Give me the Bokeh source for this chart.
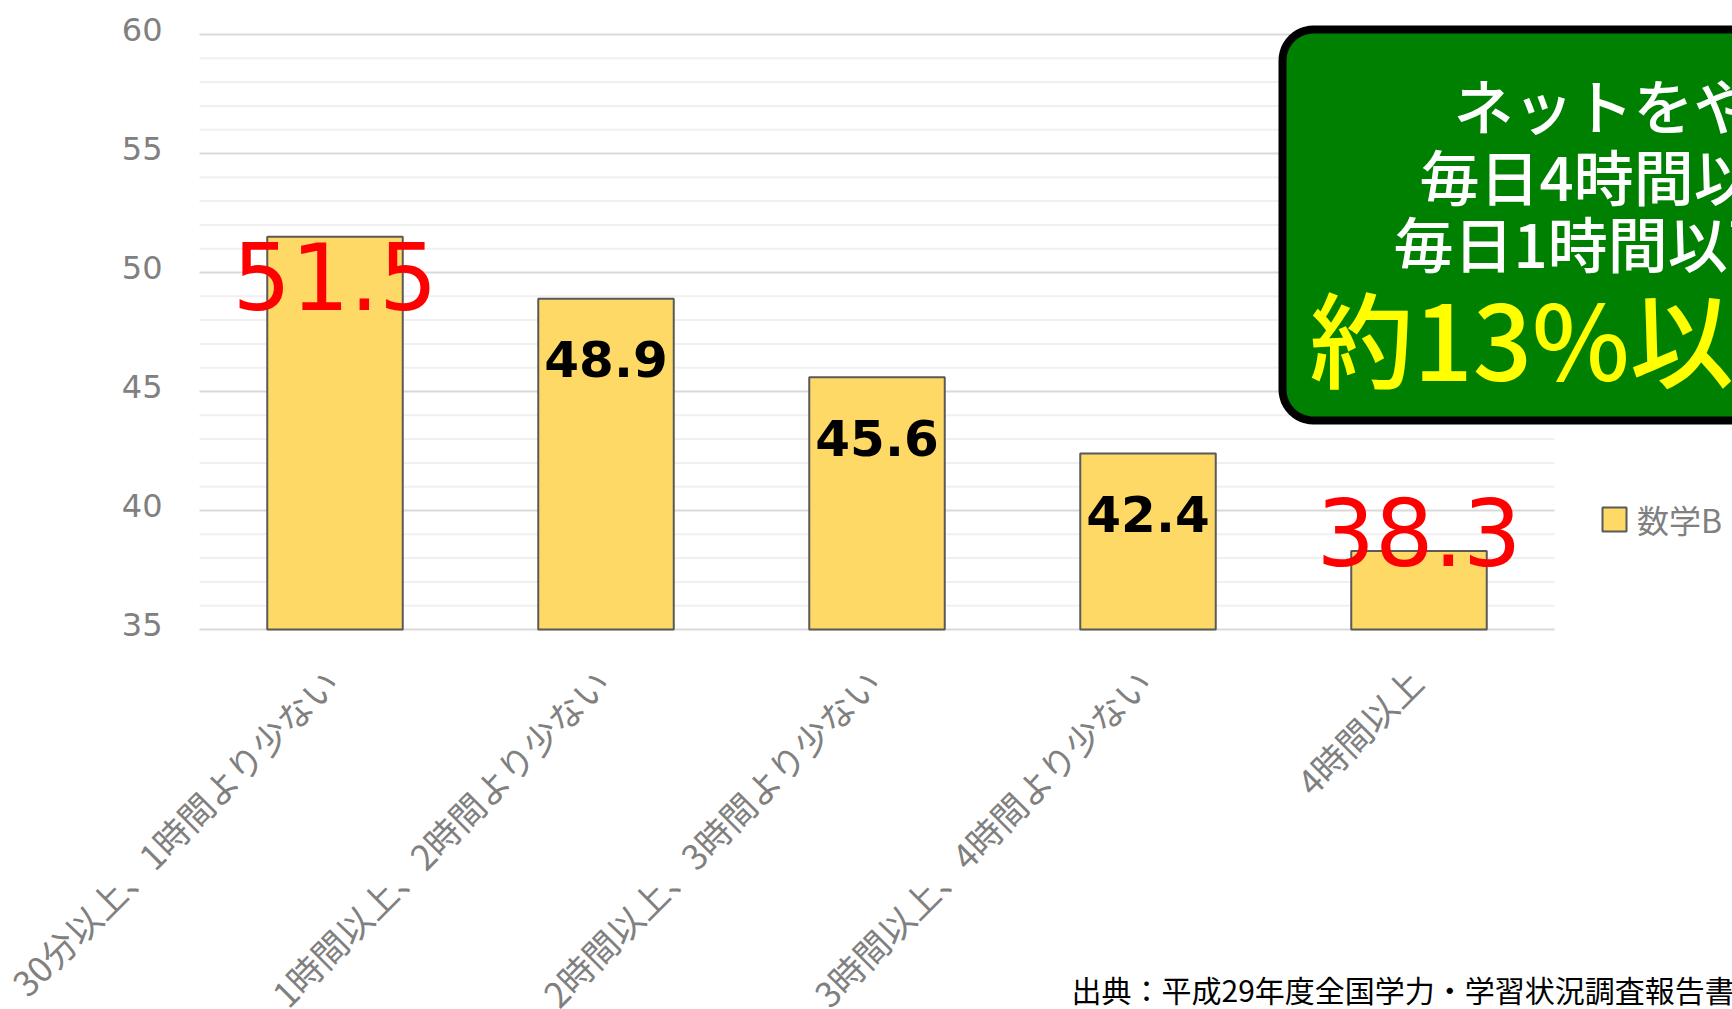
import math
from bokeh.plotting import figure
from bokeh.models import Range1d, Legend, LegendItem, ColumnDataSource
from bokeh.core.properties import value
from bokeh.embed import file_html
from bokeh.resources import INLINE

# ---------------- data ----------------
categories = [
    "30分以上、1時間より少ない",
    "1時間以上、2時間より少ない",
    "2時間以上、3時間より少ない",
    "3時間以上、4時間より少ない",
    "4時間以上",
]
scores = [51.5, 48.9, 45.6, 42.4, 38.3]
series_name = "数学B"
highlighted = [True, False, False, False, True]
y_ticks = [35, 40, 45, 50, 55, 60]
y_minor_ticks = [v for v in range(35, 61) if v % 5 != 0]
callout_lines = ["ネットをやる時間が", "毎日4時間以上の子は", "毎日1時間以下の子より", "約13%以上も低い"]
source_note = "出典：平成29年度全国学力・学習状況調査報告書"

# ---------------- layout helpers (canvas pixels -> data) ----------------
PX_X = 271.0   # pixels per category
PX_Y = 23.8    # pixels per score point
def dx(px):
    return -0.5 + (px - 199) / PX_X
def dy(py):
    return 35 + (629 - py) / PX_Y

n = len(categories)
W, H = 1732, 1009
p = figure(width=W, height=H, output_backend="svg", toolbar_location=None,
           x_range=Range1d(dx(0), dx(W)), y_range=Range1d(dy(H), dy(0)),
           x_axis_location=None, y_axis_location=None,
           min_border_left=0, min_border_right=0, min_border_top=0, min_border_bottom=0)
p.outline_line_color = None
p.xgrid.visible = False
p.ygrid.visible = False
p.background_fill_color = "white"
p.border_fill_color = "white"

# gridlines limited to the category area
x_lo, x_hi = -0.5, n - 0.5
p.segment(x0=[x_lo] * len(y_minor_ticks), x1=[x_hi] * len(y_minor_ticks),
          y0=y_minor_ticks, y1=y_minor_ticks, line_color="#f0f0f0", line_width=2)
p.segment(x0=[x_lo] * len(y_ticks), x1=[x_hi] * len(y_ticks),
          y0=y_ticks, y1=y_ticks, line_color="#d9d9d9", line_width=2)

# value axis tick labels
p.text(x=[dx(162)] * len(y_ticks), y=y_ticks, text=[str(t) for t in y_ticks],
       y_offset=-5, text_align="right", text_baseline="middle", text_color="#808080",
       text_font=value("DejaVu Sans"), text_font_size=value("32px"))

# category labels (rotated 45 degrees)
p.text(x=list(range(n)), y=[dy(674)] * n, text=categories, angle=math.pi / 4,
       x_offset=-4, text_align="right", text_baseline="middle", text_color="#808080",
       text_font=value("Noto Sans CJK JP"), text_font_size=value("35px"))

# bars
src = ColumnDataSource(dict(x=list(range(n)), top=scores))
bars = p.vbar(x="x", top="top", bottom=y_ticks[0], width=0.5, source=src,
              fill_color="#FFD966", line_color="#595959", line_width=2)

# value labels
label_shift = [-1.63, -2.55, -2.55, -2.55, 0.78]
hx = [i for i in range(n) if highlighted[i]]
nx = [i for i in range(n) if not highlighted[i]]
p.text(x=hx, y=[scores[i] + label_shift[i] for i in hx], text=[f"{scores[i]:.1f}" for i in hx],
       text_align="center", text_baseline="middle", text_color="#FF0000",
       text_font=value("DejaVu Sans"), text_font_size=value("92px"))
p.text(x=nx, y=[scores[i] + label_shift[i] for i in nx], text=[f"{scores[i]:.1f}" for i in nx],
       text_align="center", text_baseline="middle", text_color="#000000",
       text_font=value("DejaVu Sans"), text_font_style="bold", text_font_size=value("50px"))

# callout box (rounded rectangle)
L, T, B, R, rad = 1282, 29, 420, 2200, 31
pts = []
def arc(cx, cy, a0, a1):
    for k in range(13):
        a = math.radians(a0 + (a1 - a0) * k / 12)
        pts.append((cx + rad * math.cos(a), cy + rad * math.sin(a)))
arc(L + rad, T + rad, 180, 270)
arc(R - rad, T + rad, 270, 360)
arc(R - rad, B - rad, 0, 90)
arc(L + rad, B - rad, 90, 180)
p.patch(x=[dx(a) for a, b in pts], y=[dy(b) for a, b in pts],
        fill_color="#008000", line_color="#000000", line_width=8, line_join="round")

cx_px = [1453, 1419, 1393, 1309]
cy_px = [103, 173.5, 240.5, 335]
p.text(x=[dx(v) for v in cx_px[:3]], y=[dy(v) for v in cy_px[:3]], text=callout_lines[:3],
       text_color="#FFFFFF", text_font_size=value("60px"),
       text_align="left", text_baseline="middle", text_font=value("Noto Sans CJK JP Medium"))
p.text(x=[dx(cx_px[3])], y=[dy(cy_px[3])], text=callout_lines[3:],
       text_color="#FFFF00", text_font_size=value("104px"),
       text_align="left", text_baseline="middle", text_font=value("Noto Sans CJK JP Medium"))

# source note
p.text(x=[dx(1071)], y=[dy(988)], text=[source_note], text_align="left",
       text_baseline="middle", text_font=value("Noto Sans CJK JP"),
       text_font_size=value("30px"), text_color="#000000")

# legend
legend = Legend(items=[LegendItem(label=series_name, renderers=[bars])], location=(1599, 467),
                padding=0, margin=0, border_line_color=None, background_fill_alpha=0,
                glyph_width=30, glyph_height=30, label_standoff=8,
                label_text_font="Noto Sans CJK JP", label_text_font_size="32px",
                label_text_color="#808080")
p.add_layout(legend)

open("out.html", "w").write(file_html(p, INLINE))
